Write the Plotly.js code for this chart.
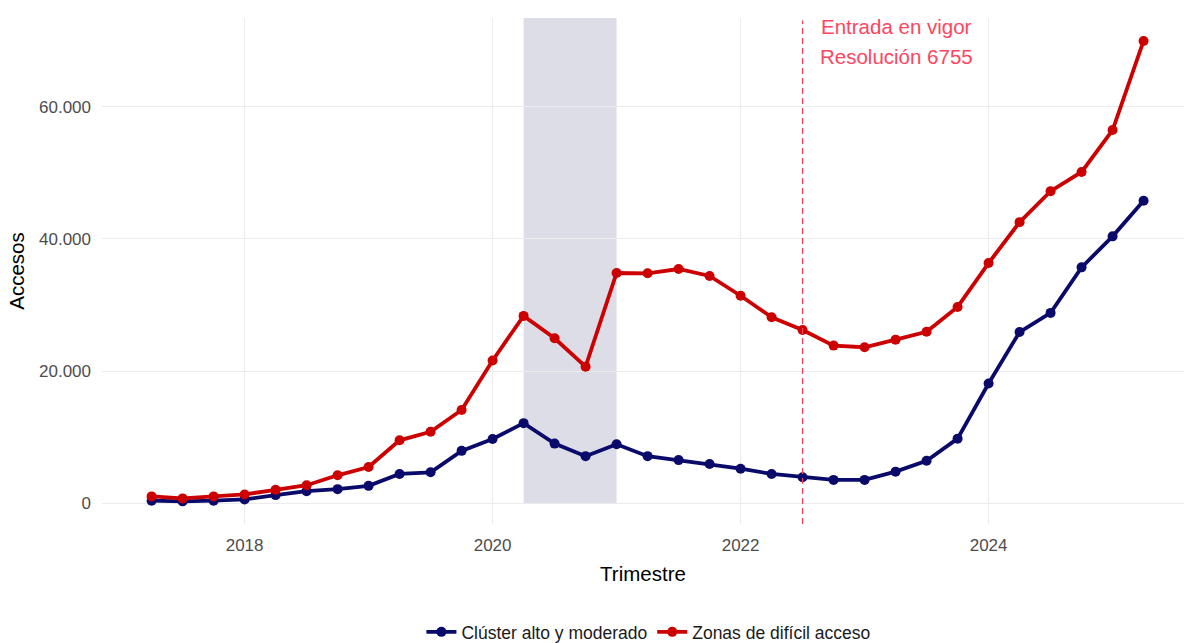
<!DOCTYPE html>
<html>
<head>
<meta charset="utf-8">
<script src="https://cdn.plot.ly/plotly-3.0.1.min.js"></script>
<style>html,body{margin:0;padding:0;background:#fff;}#chart{width:1184px;height:643px;}</style>
</head>
<body>
<div id="chart"></div>
<script>
const trimestres = [
  2017.25, 2017.5, 2017.75, 2018.0, 2018.25, 2018.5, 2018.75, 2019.0,
  2019.25, 2019.5, 2019.75, 2020.0, 2020.25, 2020.5, 2020.75, 2021.0,
  2021.25, 2021.5, 2021.75, 2022.0, 2022.25, 2022.5, 2022.75, 2023.0,
  2023.25, 2023.5, 2023.75, 2024.0, 2024.25, 2024.5, 2024.75, 2025.0, 2025.25
];
const clusterAlto = [
  350, 250, 350, 550, 1200, 1800, 2100, 2600,
  4400, 4650, 7900, 9700, 12100, 9000, 7100, 8900,
  7100, 6500, 5900, 5200, 4400, 3900, 3500, 3500,
  4750, 6400, 9750, 18100, 25900, 28800, 35700, 40400, 45800
];
const zonasDificil = [
  1000, 700, 1000, 1300, 2000, 2700, 4200, 5450,
  9500, 10800, 14100, 21600, 28350, 24950, 20650, 34850,
  34800, 35450, 34400, 31400, 28150, 26200, 23850, 23600,
  24750, 25950, 29700, 36350, 42550, 47250, 50150, 56500, 70000
];
const serieNombres = ["Clúster alto y moderado", "Zonas de difícil acceso"];
const serieColores = ["#0a0a6a", "#cc0000"];
const periodoSombreado = [2020.25, 2021.0];
const fechaResolucion = 2022.5;
const anotacionLineas = ["Entrada en vigor", "Resolución 6755"];
const xTicks = [2018, 2020, 2022, 2024];
const yTicks = [0, 20000, 40000, 60000];

const fontFam = "Liberation Sans, Arial, sans-serif";
const yRange = [-3180, 73480];

const traces = [clusterAlto, zonasDificil].map((vals, i) => ({
  x: trimestres,
  y: vals,
  type: "scatter",
  mode: "lines+markers",
  name: serieNombres[i],
  line: {color: serieColores[i], width: 3.8},
  marker: {color: serieColores[i], size: 10},
  hoverinfo: "x+y"
}));

const layout = {
  width: 1184,
  height: 643,
  margin: {l: 102, r: 0, t: 18, b: 119, autoexpand: false},
  paper_bgcolor: "#ffffff",
  plot_bgcolor: "#ffffff",
  separators: ",.",
  font: {family: fontFam, color: "#4d4d4d", size: 17},
  showlegend: true,
  legend: {
    orientation: "h",
    x: 0.505, xanchor: "center",
    y: -0.2134, yanchor: "middle",
    font: {family: fontFam, size: 17.5, color: "#1a1a1a"},
    itemwidth: 30,
    tracegroupgap: 0
  },
  xaxis: {
    range: [2016.85, 2025.576],
    tickvals: xTicks,
    ticktext: xTicks.map(String),
    showgrid: true,
    gridcolor: "#ebebeb",
    gridwidth: 1,
    zeroline: false,
    showline: false,
    ticks: "",
    automargin: false,
    ticklabelstandoff: 9,
    tickfont: {family: fontFam, size: 17, color: "#4d4d4d"},
    title: {text: "Trimestre", font: {family: fontFam, size: 20.5, color: "#000000"}, standoff: 12}
  },
  yaxis: {
    range: yRange,
    tickvals: yTicks,
    tickformat: ",d",
    showgrid: true,
    gridcolor: "#ebebeb",
    gridwidth: 1,
    zeroline: false,
    showline: false,
    ticks: "",
    automargin: false,
    ticklabelstandoff: 10,
    tickfont: {family: fontFam, size: 17, color: "#4d4d4d"},
    title: {text: "Accesos", font: {family: fontFam, size: 20.5, color: "#000000"}, standoff: 8}
  },
  shapes: [
    {
      type: "rect", xref: "x", yref: "y",
      x0: periodoSombreado[0], x1: periodoSombreado[1], y0: 0, y1: yRange[1],
      fillcolor: "#dddde8", line: {width: 0}, layer: "below"
    },
    {
      type: "line", xref: "x", yref: "paper",
      x0: fechaResolucion, x1: fechaResolucion, y0: 0, y1: 0.995,
      line: {color: "#f0435e", width: 1.3, dash: "6px,4px"}, layer: "above"
    }
  ],
  annotations: anotacionLineas.map((t, i) => ({
    text: t,
    xref: "x", yref: "y",
    x: 2023.26, y: 72150 - i * 4550,
    showarrow: false,
    xanchor: "center", yanchor: "middle",
    font: {family: fontFam, size: 20.5, color: "#ff4560"}
  }))
};

Plotly.newPlot("chart", traces, layout, {displayModeBar: false, staticPlot: true});
</script>
</body>
</html>
